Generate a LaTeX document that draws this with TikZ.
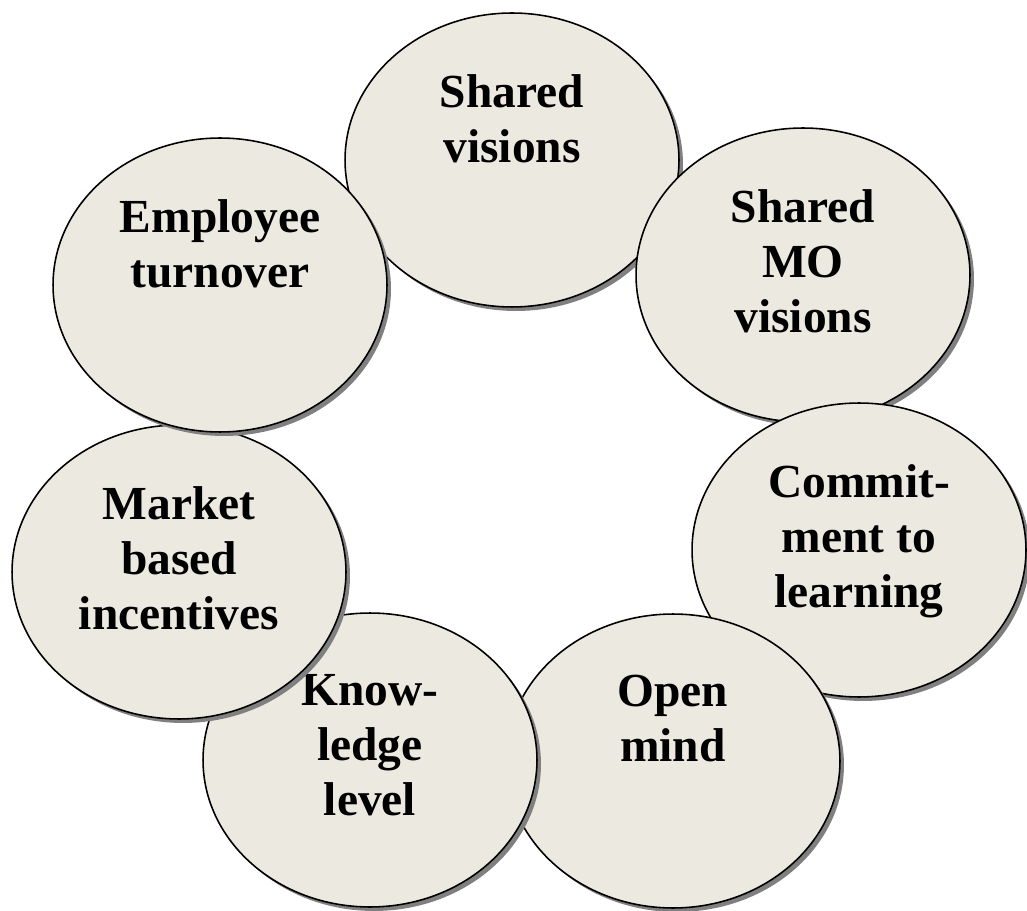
\documentclass[tikz,border=0pt]{standalone}
\usepackage{fontspec}
\setmainfont{Liberation Serif}
\usetikzlibrary{shapes.geometric, shadows, positioning}
\definecolor{bubblefill}{RGB}{236,234,224}

\begin{document}
\begin{tikzpicture}[x = 0.02cm, y = -0.02cm,
		bubble/.style = {ellipse, draw, line width = 0.9pt, fill = bubblefill, minimum width = 6.68cm, minimum height = 5.88cm, inner sep = 0pt, drop shadow = {shadow xshift = 0.08cm, shadow yshift = -0.08cm, fill = black!50, opacity = 1}},
		bubbletext/.style = {align = center, inner sep = 0pt, font = \fontsize{27}{31.3}\selectfont\bfseries}]
		
		\useasboundingbox (0, 0) rectangle (1027, 911);
		
		\node[bubble] (sv) at (512, 160) {};
		\node[bubbletext, below = 1.24cm of sv.north] (svt) {Shared\\visions};
		
		\node[bubble] (mo) at (803, 275) {};
		\node[bubbletext, below = 1.24cm of mo.north] (mot) {Shared\\MO\\visions};
		
		\node[bubble] (cl) at (859, 550) {};
		\node[bubbletext, below = 1.24cm of cl.north] (clt) {Commit-\\ment to\\learning};
		
		\node[bubble] (om) at (673, 761) {};
		\node[bubbletext, below = 1.24cm of om.north] (omt) {Open\\mind};
		
		\node[bubble] (kl) at (370, 760) {};
		\node[bubbletext, below = 1.24cm of kl.north] (klt) {Know-\\ledge\\level};
		
		\node[bubble] (mb) at (179, 572) {};
		\node[bubbletext, below = 1.24cm of mb.north] (mbt) {Market\\based\\incentives};
		
		\node[bubble] (et) at (220, 285) {};
		\node[bubbletext, below = 1.24cm of et.north] (ett) {Employee\\turnover};
	\end{tikzpicture}
\end{document}
